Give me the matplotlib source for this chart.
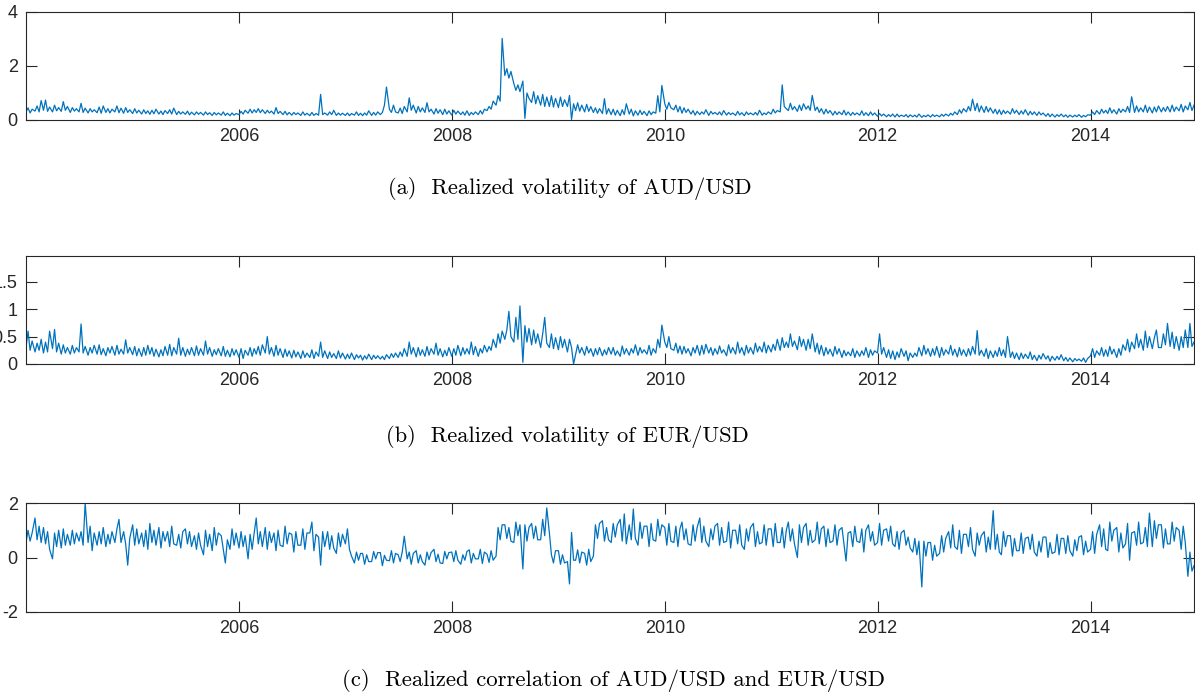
import numpy as np
import pandas as pd
import matplotlib
matplotlib.use('Agg')
import matplotlib.pyplot as plt
import matplotlib.dates as mdates

# four observations per month (1st, 8th, 15th, 22nd), Jan 2004 - Dec 2014
months = pd.date_range('2004-01-01', '2014-12-01', freq='MS')
dates = pd.DatetimeIndex([m + pd.Timedelta(days=d) for m in months for d in (0, 7, 14, 21)])

# realized volatility of AUD/USD, one row per year, four values per month
aud_vol = [
    [0.30,0.45,0.26,0.40, 0.33,0.52,0.30,0.72, 0.36,0.74,0.32,0.48, 0.30,0.55,0.34,0.46, 0.32,0.68,0.36,0.50, 0.28,0.46,0.33,0.42,
     0.30,0.62,0.28,0.44, 0.26,0.42,0.30,0.38, 0.27,0.48,0.25,0.52, 0.28,0.42,0.26,0.40, 0.30,0.52,0.27,0.44, 0.25,0.46,0.28,0.38],
    [0.24,0.42,0.26,0.36, 0.22,0.38,0.24,0.34, 0.21,0.36,0.23,0.40, 0.22,0.33,0.20,0.35, 0.24,0.38,0.22,0.44, 0.20,0.32,0.22,0.30,
     0.21,0.33,0.19,0.29, 0.19,0.30,0.21,0.28, 0.18,0.30,0.20,0.27, 0.17,0.28,0.19,0.26, 0.18,0.30,0.17,0.25, 0.16,0.26,0.18,0.24],
    [0.20,0.32,0.22,0.36, 0.25,0.40,0.26,0.38, 0.28,0.42,0.27,0.38, 0.24,0.36,0.26,0.33, 0.22,0.46,0.24,0.32, 0.20,0.32,0.19,0.28,
     0.18,0.28,0.20,0.26, 0.17,0.30,0.18,0.25, 0.16,0.28,0.17,0.24, 0.18,0.95,0.20,0.26, 0.18,0.30,0.20,0.36, 0.17,0.26,0.18,0.25],
    [0.17,0.26,0.16,0.24, 0.18,0.30,0.17,0.25, 0.16,0.26,0.18,0.34, 0.17,0.28,0.18,0.30, 0.20,0.28,0.55,1.22, 0.40,0.28,0.55,0.30,
     0.26,0.44,0.24,0.50, 0.30,0.82,0.36,0.55, 0.26,0.50,0.30,0.45, 0.28,0.64,0.30,0.40, 0.22,0.42,0.25,0.38, 0.20,0.40,0.22,0.34],
    [0.18,0.36,0.22,0.33, 0.20,0.30,0.18,0.34, 0.17,0.28,0.20,0.30, 0.20,0.35,0.22,0.40, 0.35,0.50,0.40,0.70, 0.55,0.90,0.70,3.02,
     1.65,1.90,1.55,1.80, 1.35,1.10,1.30,1.05, 1.44,0.06,1.00,0.80, 0.65,1.05,0.60,0.90, 0.55,0.95,0.50,0.85, 0.50,0.90,0.48,0.80],
    [0.46,0.85,0.50,0.75, 0.50,0.91,0.02,0.60, 0.35,0.64,0.33,0.55, 0.30,0.58,0.32,0.50, 0.28,0.45,0.25,0.42, 0.24,0.79,0.22,0.42,
     0.20,0.40,0.18,0.36, 0.16,0.38,0.20,0.60, 0.22,0.40,0.15,0.34, 0.18,0.36,0.20,0.32, 0.16,0.34,0.20,0.30, 0.25,0.90,0.30,1.28],
    [0.60,0.40,0.65,0.45, 0.38,0.55,0.30,0.50, 0.25,0.45,0.28,0.40, 0.22,0.35,0.18,0.32, 0.20,0.30,0.22,0.38, 0.17,0.32,0.22,0.28,
     0.20,0.30,0.18,0.35, 0.18,0.28,0.20,0.26, 0.17,0.32,0.19,0.27, 0.16,0.30,0.20,0.26, 0.19,0.28,0.18,0.36, 0.18,0.26,0.20,0.30],
    [0.22,0.40,0.26,0.35, 0.30,1.30,0.50,0.42, 0.35,0.62,0.38,0.50, 0.32,0.55,0.35,0.60, 0.40,0.52,0.36,0.91, 0.35,0.48,0.28,0.42,
     0.22,0.40,0.25,0.35, 0.18,0.32,0.20,0.30, 0.20,0.36,0.18,0.30, 0.17,0.28,0.19,0.26, 0.18,0.34,0.17,0.27, 0.16,0.30,0.18,0.26],
    [0.14,0.24,0.15,0.22, 0.12,0.20,0.13,0.22, 0.11,0.22,0.12,0.18, 0.13,0.20,0.10,0.19, 0.12,0.18,0.11,0.22, 0.10,0.17,0.12,0.19,
     0.11,0.20,0.13,0.18, 0.12,0.21,0.14,0.22, 0.15,0.25,0.18,0.30, 0.20,0.38,0.25,0.42, 0.30,0.50,0.34,0.77, 0.35,0.62,0.30,0.52],
    [0.28,0.50,0.30,0.45, 0.25,0.40,0.22,0.38, 0.20,0.36,0.24,0.33, 0.22,0.42,0.25,0.36, 0.20,0.34,0.22,0.38, 0.18,0.32,0.20,0.30,
     0.17,0.30,0.19,0.26, 0.14,0.24,0.12,0.22, 0.11,0.20,0.13,0.22, 0.12,0.19,0.10,0.18, 0.11,0.18,0.12,0.20, 0.10,0.17,0.12,0.19],
    [0.18,0.30,0.20,0.35, 0.22,0.40,0.26,0.36, 0.24,0.45,0.26,0.38, 0.22,0.42,0.28,0.40, 0.30,0.50,0.28,0.86, 0.28,0.52,0.30,0.45,
     0.30,0.55,0.28,0.48, 0.26,0.48,0.30,0.52, 0.30,0.46,0.32,0.50, 0.30,0.55,0.32,0.48, 0.34,0.58,0.30,0.52, 0.38,0.65,0.35,0.55],
]

# realized volatility of EUR/USD
eur_vol = [
    [0.30,0.60,0.25,0.42, 0.22,0.38,0.25,0.45, 0.20,0.40,0.22,0.60, 0.28,0.63,0.22,0.38, 0.18,0.35,0.20,0.30, 0.18,0.34,0.20,0.30,
     0.22,0.73,0.20,0.32, 0.16,0.30,0.20,0.34, 0.18,0.35,0.17,0.28, 0.15,0.30,0.20,0.32, 0.16,0.34,0.18,0.27, 0.18,0.44,0.20,0.30],
    [0.17,0.32,0.15,0.28, 0.14,0.30,0.16,0.34, 0.18,0.30,0.14,0.27, 0.13,0.26,0.15,0.32, 0.16,0.36,0.15,0.30, 0.18,0.47,0.16,0.30,
     0.14,0.27,0.17,0.30, 0.15,0.33,0.16,0.28, 0.16,0.42,0.18,0.30, 0.14,0.26,0.17,0.28, 0.15,0.32,0.14,0.25, 0.13,0.28,0.16,0.26],
    [0.12,0.28,0.10,0.25, 0.16,0.30,0.14,0.28, 0.18,0.32,0.16,0.35, 0.20,0.50,0.18,0.30, 0.14,0.34,0.16,0.28, 0.12,0.27,0.14,0.24,
     0.11,0.25,0.13,0.22, 0.10,0.24,0.12,0.20, 0.12,0.26,0.10,0.22, 0.14,0.40,0.12,0.24, 0.10,0.22,0.12,0.19, 0.10,0.24,0.11,0.20],
    [0.09,0.18,0.10,0.20, 0.08,0.17,0.11,0.16, 0.07,0.15,0.09,0.18, 0.08,0.16,0.10,0.15, 0.09,0.14,0.08,0.17, 0.10,0.19,0.12,0.20,
     0.12,0.22,0.14,0.28, 0.14,0.40,0.18,0.30, 0.13,0.30,0.16,0.26, 0.14,0.32,0.16,0.28, 0.18,0.38,0.16,0.28, 0.13,0.25,0.15,0.30],
    [0.14,0.28,0.16,0.34, 0.15,0.30,0.18,0.28, 0.18,0.40,0.17,0.32, 0.14,0.28,0.20,0.34, 0.22,0.32,0.25,0.45, 0.30,0.55,0.38,0.60,
     0.45,0.62,0.96,0.50, 0.40,0.85,0.45,1.06, 0.03,0.70,0.40,0.65, 0.35,0.62,0.38,0.55, 0.30,0.55,0.85,0.38, 0.30,0.55,0.28,0.48],
    [0.26,0.50,0.30,0.45, 0.22,0.45,0.30,0.00, 0.18,0.35,0.20,0.30, 0.16,0.32,0.20,0.28, 0.14,0.28,0.17,0.30, 0.15,0.26,0.17,0.30,
     0.18,0.30,0.16,0.24, 0.14,0.33,0.18,0.28, 0.16,0.28,0.20,0.35, 0.16,0.30,0.20,0.26, 0.18,0.34,0.16,0.28, 0.20,0.45,0.30,0.71],
    [0.40,0.30,0.50,0.28, 0.25,0.38,0.20,0.33, 0.18,0.32,0.20,0.28, 0.15,0.30,0.20,0.34, 0.16,0.34,0.18,0.36, 0.20,0.30,0.16,0.28,
     0.18,0.33,0.20,0.26, 0.15,0.35,0.20,0.30, 0.18,0.40,0.20,0.30, 0.16,0.34,0.20,0.30, 0.18,0.38,0.22,0.32, 0.22,0.40,0.20,0.34],
    [0.22,0.36,0.25,0.45, 0.25,0.48,0.30,0.40, 0.30,0.55,0.32,0.42, 0.26,0.50,0.32,0.45, 0.25,0.45,0.28,0.55, 0.22,0.38,0.18,0.34,
     0.15,0.30,0.18,0.27, 0.14,0.32,0.18,0.28, 0.12,0.25,0.15,0.22, 0.15,0.28,0.12,0.24, 0.14,0.24,0.16,0.30, 0.12,0.26,0.16,0.24],
    [0.20,0.55,0.18,0.30, 0.12,0.26,0.10,0.24, 0.08,0.22,0.12,0.28, 0.14,0.24,0.06,0.20, 0.12,0.20,0.14,0.30, 0.15,0.34,0.18,0.28,
     0.14,0.28,0.16,0.32, 0.12,0.30,0.16,0.26, 0.18,0.34,0.16,0.27, 0.13,0.30,0.16,0.26, 0.14,0.28,0.16,0.32, 0.18,0.61,0.16,0.25],
    [0.14,0.28,0.10,0.24, 0.12,0.24,0.14,0.30, 0.15,0.26,0.12,0.50, 0.12,0.22,0.10,0.20, 0.08,0.20,0.10,0.18, 0.10,0.22,0.08,0.16,
     0.06,0.16,0.09,0.19, 0.09,0.15,0.05,0.14, 0.07,0.14,0.08,0.17, 0.06,0.12,0.05,0.11, 0.04,0.10,0.06,0.09, 0.05,0.11,0.03,0.10],
    [0.15,0.28,0.12,0.24, 0.16,0.30,0.14,0.26, 0.14,0.32,0.18,0.27, 0.12,0.28,0.16,0.35, 0.25,0.45,0.22,0.40, 0.28,0.55,0.30,0.45,
     0.25,0.60,0.30,0.50, 0.28,0.48,0.62,0.30, 0.30,0.55,0.35,0.74, 0.32,0.58,0.28,0.50, 0.25,0.50,0.30,0.62, 0.30,0.74,0.32,0.40],
]

# realized correlation of AUD/USD and EUR/USD
aud_eur_corr = [
    [0.55,1.00,0.60,0.90, 1.45,0.65,1.15,0.55, 1.10,0.50,0.95,0.30, -0.05,0.90,0.40,1.00, 0.35,1.05,0.45,0.85, 0.45,1.00,0.50,0.90,
     0.60,0.95,0.45,2.00, 0.55,1.15,0.25,0.90, 0.45,0.95,0.50,1.10, 0.40,0.85,0.50,0.95, 0.55,1.05,1.40,0.55, 0.95,0.50,-0.28,0.70],
    [1.20,0.45,1.05,0.50, 0.90,0.40,1.00,0.30, 1.25,0.55,1.00,0.45, 1.10,0.35,0.95,0.60, 0.95,0.40,1.15,0.50, 0.45,0.85,0.35,0.95,
     1.05,0.50,0.95,0.40, 0.80,0.30,0.90,0.45, 0.10,1.00,0.40,0.85, 0.25,1.10,0.45,0.90, 0.80,0.30,-0.20,0.65, 0.30,1.05,0.45,0.90],
    [0.35,0.95,0.40,0.80, -0.05,0.85,0.30,0.90, 1.45,0.50,0.95,0.40, 1.10,0.30,0.95,0.55, 0.90,0.25,1.00,0.45, 0.40,1.15,0.50,0.90,
     0.85,0.20,0.95,0.45, 0.45,1.05,0.30,0.90, 0.90,1.30,0.25,0.85, 0.75,-0.28,0.95,0.40, 0.95,0.30,0.80,0.35, 0.15,0.90,0.40,0.85],
    [0.50,1.05,0.30,0.05, -0.20,0.20,-0.10,0.15, 0.15,-0.25,0.10,-0.15, -0.15,0.22,-0.05,0.18, 0.18,-0.30,0.08,-0.10, -0.12,0.25,-0.20,0.15,
     0.10,-0.15,0.20,0.78, -0.05,0.20,-0.25,0.15, 0.25,-0.20,0.10,-0.15, -0.28,0.20,-0.08,0.18, 0.30,-0.15,0.12,-0.20, -0.22,0.22,-0.05,0.18],
    [0.20,-0.15,0.25,-0.10, -0.25,0.10,-0.10,0.22, 0.28,-0.20,0.15,-0.05, -0.05,0.30,-0.22,0.20, 0.12,-0.18,0.25,-0.10, 0.05,1.10,0.65,1.20,
     1.20,0.70,1.10,0.60, 0.55,1.30,0.80,1.20, -0.42,1.20,0.60,1.10, 1.25,0.70,1.15,0.65, 0.65,1.40,0.80,1.82, 0.90,0.10,-0.20,0.25],
    [0.25,-0.25,0.10,-0.20, -0.15,-0.97,0.92,-0.10, -0.10,0.28,-0.20,0.20, 0.15,-0.28,0.30,-0.15, 0.05,1.20,0.70,1.25, 1.35,0.60,1.10,0.65,
     0.55,1.25,0.75,1.20, 1.40,0.60,1.60,0.50, 1.20,0.65,1.78,0.70, 0.45,1.30,0.70,1.15, 1.15,0.40,1.25,0.65, 0.60,1.40,0.80,1.20],
    [1.10,0.45,1.25,0.60, 0.55,1.15,0.40,1.05, 1.30,0.65,1.05,0.50, 0.45,1.20,0.60,1.10, 1.45,0.55,1.15,0.60, 0.40,1.05,0.65,1.15,
     1.25,0.45,1.10,0.55, 0.60,1.30,0.35,1.00, 1.00,0.50,1.20,0.45, 0.30,1.05,0.60,1.10, 1.25,0.40,0.95,0.50, 0.55,1.20,0.45,1.05],
    [1.05,0.40,1.25,0.55, 0.55,1.10,0.35,1.00, 1.30,0.60,1.05,0.50, 0.00,1.20,0.55,1.10, 1.25,0.45,1.00,0.55, 0.65,1.30,0.50,1.05,
     1.15,0.40,1.05,0.55, 0.60,1.20,0.45,1.00, 1.10,0.50,-0.13,0.90, 0.95,0.40,1.15,0.60, 0.55,1.05,0.20,1.00, 1.20,0.60,0.95,0.45],
    [0.55,1.25,0.45,1.00, 1.05,0.60,1.15,0.50, 0.40,0.95,0.30,0.90, 1.00,0.45,0.75,0.35, 0.20,0.70,0.10,0.60, -1.08,0.60,0.05,0.55,
     0.55,-0.10,0.45,0.05, 0.15,0.80,0.20,0.70, 0.95,0.35,1.20,0.40, 0.30,1.00,0.15,0.85, 0.85,0.40,1.10,0.30, 0.05,0.90,0.45,0.80],
    [0.95,0.20,0.75,0.30, 1.72,0.30,0.85,0.20, 0.10,0.95,0.40,0.80, 0.80,0.05,0.70,0.25, 0.25,0.90,0.15,0.70, 0.75,0.30,0.85,0.20,
     0.05,0.60,0.20,0.75, 0.75,0.00,0.55,0.15, 0.20,0.85,0.10,0.70, 0.70,0.15,0.80,0.25, 0.05,0.65,0.25,0.75, 0.80,0.10,0.60,0.20],
    [0.30,0.95,0.15,0.85, 1.20,0.40,1.05,0.30, 0.25,1.30,0.60,1.00, 1.10,0.20,0.90,0.35, 0.50,1.25,-0.10,0.90, 0.95,0.45,1.30,0.50,
     0.55,1.10,0.40,1.63, 0.40,1.35,0.70,1.20, 1.20,0.35,1.05,0.50, 0.50,1.30,0.60,1.10, 1.00,0.30,1.15,0.55, -0.69,0.20,-0.50,-0.30],
]

tick_years = [2006, 2008, 2010, 2012, 2014]
captions = ['(a)  Realized volatility of AUD/USD',
            '(b)  Realized volatility of EUR/USD',
            '(c)  Realized correlation of AUD/USD and EUR/USD']
yticks = [[0, 2, 4], [0, 0.5, 1, 1.5], [-2, 0, 2]]
ylims = [(0, 4), (0, 1.97), (-2, 2)]

series = [np.concatenate(aud_vol), np.concatenate(eur_vol), np.concatenate(aud_eur_corr)]

fig = plt.figure(figsize=(11.95, 6.92), dpi=100)

# axes boxes in figure pixels: (top, bottom)
boxes = [(12, 120), (256, 364), (503, 612)]
cap_pos = [(388, 188), (386, 437), (342, 681)]
cap_size = [16.2, 16.2, 16.4]
W, H = 1195.0, 692.0
left, right = 26, 1194

for k in range(3):
    top, bot = boxes[k]
    ax = fig.add_axes([left / W, 1 - bot / H, (right - left) / W, (bot - top) / H])
    ax.plot(dates, series[k], color='#0072BD', lw=0.9)
    ax.set_xlim(dates[0], dates[-1])
    ax.set_ylim(*ylims[k])
    ax.set_yticks(yticks[k])
    ax.set_yticklabels([('%g' % v) for v in yticks[k]])
    ax.set_xticks([pd.Timestamp('%d-01-01' % y) for y in tick_years])
    ax.xaxis.set_major_formatter(mdates.DateFormatter('%Y'))
    ax.tick_params(direction='in', length=8, width=0.8, top=True, right=True,
                   labelsize=13, color='#262626', labelcolor='#262626', pad=6)
    for s in ax.spines.values():
        s.set_color('#262626')
        s.set_linewidth(0.8)
    for lab in ax.get_xticklabels() + ax.get_yticklabels():
        lab.set_family('Liberation Sans')

    cx, cy = cap_pos[k]
    fig.text(cx / W, 1 - cy / H, captions[k], family='cmr10', fontsize=cap_size[k],
             ha='left', va='center', color='black')

fig.savefig('out.png', dpi=100)
